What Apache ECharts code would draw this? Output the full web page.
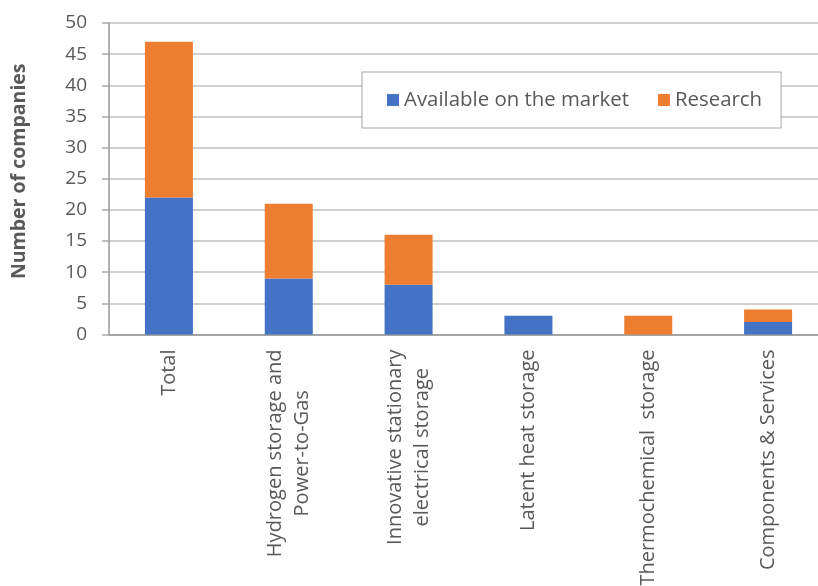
<!DOCTYPE html>
<html>
<head>
<meta charset="utf-8">
<script src="https://cdn.jsdelivr.net/npm/echarts@6/dist/echarts.min.js"></script>
<style>html,body{margin:0;padding:0;background:#fff;}#c{width:818px;height:586px;}</style>
</head>
<body>
<div id="c"></div>
<script>
const categories = [
  "Total",
  "Hydrogen storage and\nPower-to-Gas",
  "Innovative stationary\nelectrical storage",
  "Latent heat storage",
  "Thermochemical  storage",
  "Components & Services"
];
const availableOnMarket = [22, 9, 8, 3, 0, 2];
const research = [25, 12, 8, 0, 3, 2];
const yTicks = { min: 0, max: 50, interval: 5 };

const FONT = "'Open Sans', sans-serif";
const TEXT = '#595959';
const LABEL_SIZE = 20;

// Labels are centred blocks (so their lines are centred); a right padding equal to the
// block width shifts each block so that its end sits at the axis, as in the reference.
const ctx = document.createElement('canvas').getContext('2d');
ctx.font = LABEL_SIZE + "px 'Open Sans'";
const categoryItems = categories.map(cat => {
  const w = Math.max.apply(null, cat.split('\n').map(l => ctx.measureText(l).width));
  return { value: cat, textStyle: { align: 'center', padding: [0, w, 0, 0] } };
});

const chart = echarts.init(document.getElementById('c'), null, { renderer: 'canvas' });
chart.setOption({
  animation: false,
  textStyle: { fontFamily: FONT },
  grid: { left: 109, right: -10, top: 23, bottom: 251.5, containLabel: false, outerBoundsMode: 'none' },
  legend: {
    left: 362, top: 72,
    padding: [18, 19, 18, 25],
    borderColor: '#A6A6A6', borderWidth: 1,
    backgroundColor: '#fff',
    itemWidth: 12, itemHeight: 12, itemGap: 29,
    icon: 'rect',
    textStyle: { fontFamily: FONT, fontSize: 20.4, color: TEXT },
    data: ['Available on the market', 'Research']
  },
  xAxis: {
    type: 'category',
    data: categoryItems,
    axisLine: { lineStyle: { color: '#969696', width: 1.5 } },
    axisTick: { show: false },
    axisLabel: {
      interval: 0, rotate: 90, margin: 15, align: 'center',
      color: TEXT, fontFamily: FONT, fontSize: LABEL_SIZE, lineHeight: 27
    }
  },
  yAxis: {
    type: 'value',
    min: yTicks.min, max: yTicks.max, interval: yTicks.interval,
    name: 'Number of companies',
    nameLocation: 'middle', nameRotate: 90, nameGap: 80,
    nameTextStyle: { fontFamily: FONT, fontSize: 19.5, fontWeight: 'bold', color: TEXT, padding: [0, 0, 0, 15] },
    axisLine: { show: true, lineStyle: { color: '#969696', width: 1.5 } },
    axisTick: { show: true, length: 7, lineStyle: { color: '#ABABAB', width: 1.5 } },
    axisLabel: { margin: 22, color: TEXT, fontFamily: FONT, fontSize: 19 },
    splitLine: { lineStyle: { color: '#BFBFBF', width: 1.5 } }
  },
  series: [
    {
      name: 'Available on the market', type: 'bar', stack: 's',
      data: availableOnMarket, barWidth: 48,
      itemStyle: { color: '#4472C4' }
    },
    {
      name: 'Research', type: 'bar', stack: 's',
      data: research, barWidth: 48,
      itemStyle: { color: '#ED7D31' }
    }
  ]
});
</script>
</body>
</html>
